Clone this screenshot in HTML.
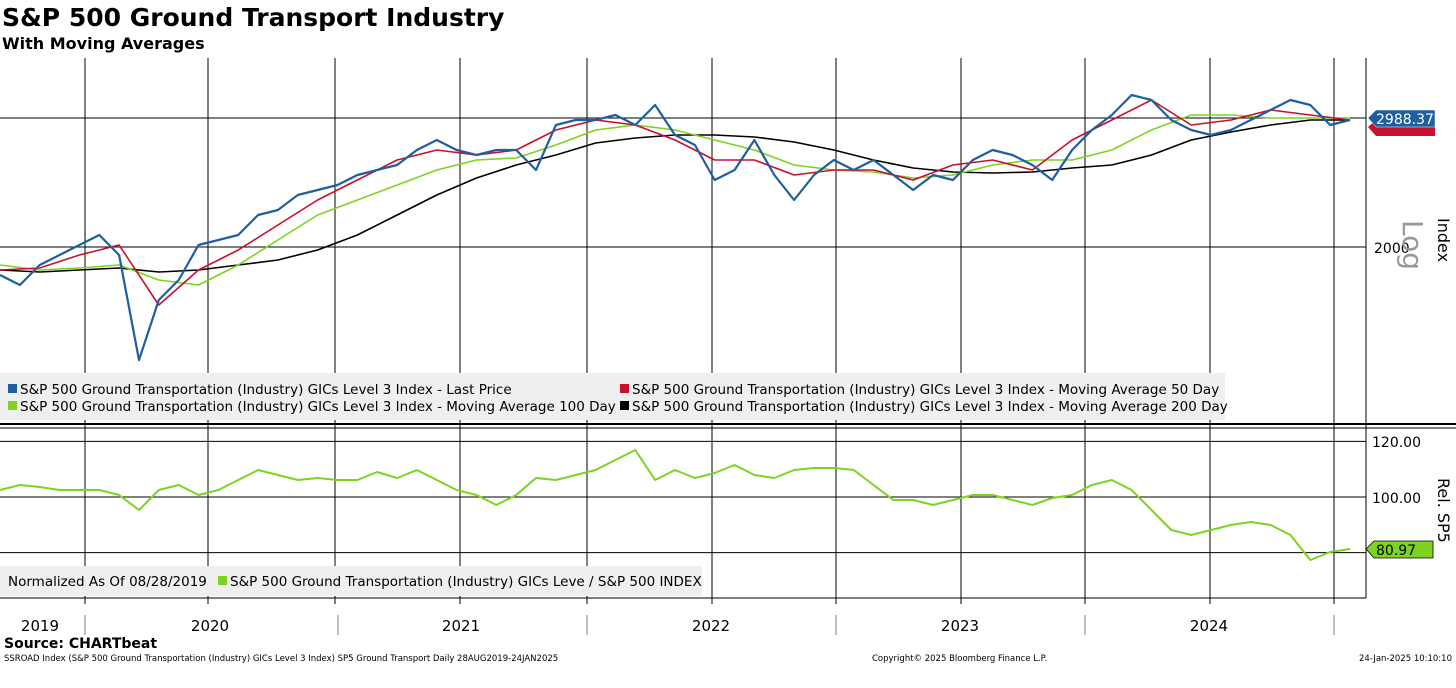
<!DOCTYPE html>
<html><head><meta charset="utf-8"><style>
body{margin:0;background:#fff;font-family:"Liberation Sans",sans-serif;}
svg text{font-family:"DejaVu Sans","Liberation Sans",sans-serif;}
</style></head><body>
<svg id="c" width="1456" height="665" xmlns="http://www.w3.org/2000/svg">
<text x="2" y="26" font-size="25" font-weight="bold" fill="#000">S&amp;P 500 Ground Transport Industry</text>
<text x="2" y="49" font-size="16" font-weight="bold" fill="#000">With Moving Averages</text>
<g id="grid"></g>
<g id="series"></g>
<g id="ui"></g>
</svg>
<script>
const priceY=[275,285,265,255,245,235,255,360,300,280,245,240,235,215,210,195,190,185,175,170,165,150,140,150,155,150,150,170,125,120,120,115,125,105,135,145,180,170,140,175,200,175,160,170,160,175,190,175,180,160,150,155,165,180,150,130,115,95,100,120,130,135,130,120,110,100,105,125,120];
const ma50Y=[270,268,255,245,305,270,250,225,200,180,160,150,155,150,130,120,125,140,160,160,175,170,170,180,165,160,170,140,120,100,125,120,110,115,120];
const ma100Y=[265,270,268,265,280,285,265,240,215,200,185,170,160,158,145,130,125,130,140,150,165,170,172,178,175,165,160,160,150,130,115,115,118,118,118];
const ma200Y=[270,272,270,268,272,270,265,260,250,235,215,195,178,165,155,143,138,135,135,137,142,150,160,168,172,173,172,168,165,155,140,132,125,120,120];
const relY=[490,485,487,490,490,490,495,510,490,485,495,490,480,470,475,480,478,480,480,472,478,470,480,490,495,505,495,478,480,475,470,460,450,480,470,478,473,465,475,478,470,468,468,470,485,500,500,505,500,495,495,500,505,498,495,485,480,490,510,530,535,530,525,522,525,535,560,552,549];
// convert pixel readings to values
const price=priceY.map(y=>3000*Math.exp((118-y)/318));
const ma50=ma50Y.map(y=>3000*Math.exp((118-y)/318));
const ma100=ma100Y.map(y=>3000*Math.exp((118-y)/318));
const ma200=ma200Y.map(y=>3000*Math.exp((118-y)/318));
const rel=relY.map(y=>100+(497-y)/2.78);
const years=["2019","2020","2021","2022","2023","2024"];
const relTicks=[120,100,80];

const NS="http://www.w3.org/2000/svg";
const X1=0,X2=1350;
function xs(i,n){return X1+(X2-X1)*i/(n-1);}
function yTop(v){return 118-318*Math.log(v/3000);}
function yBot(v){return 497-(v-100)*2.78;}
function mk(tag,attrs,parent){const e=document.createElementNS(NS,tag);for(const k in attrs)e.setAttribute(k,attrs[k]);document.getElementById(parent).appendChild(e);return e;}

// grid
const vlines=[85,208,335,460,587,712,836,961,1085,1210,1334];
vlines.forEach(x=>{
 let l=mk('line',{x1:x,x2:x,y1:58,y2:598,stroke:'#000','stroke-width':1},'grid');
 
 
});
[118,247].forEach(y=>{let l=mk('line',{x1:0,x2:1366,y1:y,y2:y,stroke:'#000','stroke-width':1},'grid');
 
 });
relTicks.forEach(v=>{let y=yBot(v);let l=mk('line',{x1:0,x2:1366,y1:y,y2:y,stroke:'#000','stroke-width':1},'grid');
 
 });

function line(arr,yf,color,w,name){
 const pts=arr.map((v,i)=>xs(i,arr.length).toFixed(1)+','+yf(v).toFixed(1)).join(' ');
 const p=mk('polyline',{points:pts,fill:'none',stroke:color,'stroke-width':w,'stroke-linejoin':'round'},'series');
 
 
}
line(ma200,yTop,'#000',1.6,'ma200-line');
line(ma100,yTop,'#7ed321',1.6,'ma100-line');
line(ma50,yTop,'#c8102e',1.6,'ma50-line');
line(price,yTop,'#1f5fa0',2.2,'price-line');
line(rel,yBot,'#7ed321',2,'relative-line');
</script>
<svg width="0" height="0"></svg>
<div style="position:absolute;left:0;top:0;width:1456px;height:665px;pointer-events:none">
<svg width="1456" height="665" style="position:absolute;left:0;top:0">
<!-- panel separators / axes -->
<line x1="0" y1="424" x2="1456" y2="424" stroke="#000" stroke-width="2"/>
<line x1="0" y1="428" x2="1456" y2="428" stroke="#000" stroke-width="1"/>
<line x1="1366" y1="58" x2="1366" y2="598" stroke="#000"/>
<line x1="0" y1="598" x2="1366" y2="598" stroke="#000"/>
<g stroke="#000">
<line x1="85" y1="598" x2="85" y2="604"/><line x1="208" y1="598" x2="208" y2="604"/><line x1="335" y1="598" x2="335" y2="604"/><line x1="460" y1="598" x2="460" y2="604"/><line x1="587" y1="598" x2="587" y2="604"/><line x1="712" y1="598" x2="712" y2="604"/><line x1="836" y1="598" x2="836" y2="604"/><line x1="961" y1="598" x2="961" y2="604"/><line x1="1085" y1="598" x2="1085" y2="604"/><line x1="1210" y1="598" x2="1210" y2="604"/><line x1="1334" y1="598" x2="1334" y2="604"/>
</g>
<g stroke="#aaa" stroke-width="1.5">
<line x1="85" y1="615" x2="85" y2="635"/><line x1="338" y1="615" x2="338" y2="635"/><line x1="587" y1="615" x2="587" y2="635"/><line x1="836" y1="615" x2="836" y2="635"/><line x1="1085" y1="615" x2="1085" y2="635"/><line x1="1334" y1="615" x2="1334" y2="635"/>
</g>
<g font-family="DejaVu Sans" font-size="15" fill="#000" text-anchor="middle">
<text x="40" y="631">2019</text>
<text x="210" y="631">2020</text>
<text x="461" y="631">2021</text>
<text x="711" y="631">2022</text>
<text x="960" y="631">2023</text>
<text x="1209" y="631">2024</text>
</g>
<text x="4" y="648" font-family="DejaVu Sans" font-size="14" font-weight="bold">Source: CHARTbeat</text>
<text x="4" y="661" font-family="DejaVu Sans" font-size="8.5">SSROAD Index (S&amp;P 500 Ground Transportation (Industry) GICs Level 3 Index) SP5 Ground Transport  Daily 28AUG2019-24JAN2025</text>
<text x="872" y="661" font-family="DejaVu Sans" font-size="8.5">Copyright© 2025 Bloomberg Finance L.P.</text>
<text x="1452" y="661" font-family="DejaVu Sans" font-size="8.5" text-anchor="end">24-Jan-2025 10:10:10</text>
<!-- right axis labels -->
<text x="1374" y="253" font-family="DejaVu Sans" font-size="14">2000</text>
<text transform="translate(1403,220) rotate(90)" font-family="DejaVu Sans" font-size="28" fill="#999">Log</text>
<text transform="translate(1438,218) rotate(90)" font-family="DejaVu Sans" font-size="16">Index</text>
<polygon points="1368,127 1376,120 1435,120 1435,136 1376,136" fill="#c8102e"/>
<polygon points="1368,118 1376,110 1435,110 1435,127 1376,127" fill="#1f5fa0" stroke="#fff" stroke-width="0.5"/>
<text x="1376" y="124" font-family="DejaVu Sans" font-size="14" fill="#fff">2988.37</text>
<text x="1372" y="447" font-family="DejaVu Sans" font-size="14">120.00</text>
<text x="1372" y="503" font-family="DejaVu Sans" font-size="14">100.00</text>
<polygon points="1366,549 1374,541 1433,541 1433,558 1374,558" fill="#7ed321" stroke="#000" stroke-width="0.8"/>
<text x="1376" y="555" font-family="DejaVu Sans" font-size="14" fill="#000">80.97</text>
<text transform="translate(1438,478) rotate(90)" font-family="DejaVu Sans" font-size="16">Rel. SP5</text>
<!-- top legend -->
<rect x="0" y="373" width="1225" height="47" fill="#efefef"/>
<g font-family="DejaVu Sans" font-size="13.5" fill="#000">
<rect x="8" y="384" width="9" height="9" fill="#1f5fa0"/>
<text x="20" y="394">S&amp;P 500 Ground Transportation (Industry) GICs Level 3 Index - Last Price</text>
<rect x="620" y="384" width="9" height="9" fill="#c8102e"/>
<text x="632" y="394">S&amp;P 500 Ground Transportation (Industry) GICs Level 3 Index - Moving Average 50 Day</text>
<rect x="8" y="401" width="9" height="9" fill="#7ed321"/>
<text x="20" y="411">S&amp;P 500 Ground Transportation (Industry) GICs Level 3 Index - Moving Average 100 Day</text>
<rect x="620" y="401" width="9" height="9" fill="#000"/>
<text x="632" y="411">S&amp;P 500 Ground Transportation (Industry) GICs Level 3 Index - Moving Average 200 Day</text>
</g>
<!-- bottom legend -->
<rect x="0" y="566" width="702" height="30" fill="#efefef"/>
<g font-family="DejaVu Sans" font-size="13.5" fill="#000">
<text x="8" y="586">Normalized As Of 08/28/2019</text>
<rect x="218" y="576" width="9" height="9" fill="#7ed321"/>
<text x="230" y="586">S&amp;P 500 Ground Transportation (Industry) GICs Leve / S&amp;P 500 INDEX</text>
</g>
</svg>
</div>
</body></html>
